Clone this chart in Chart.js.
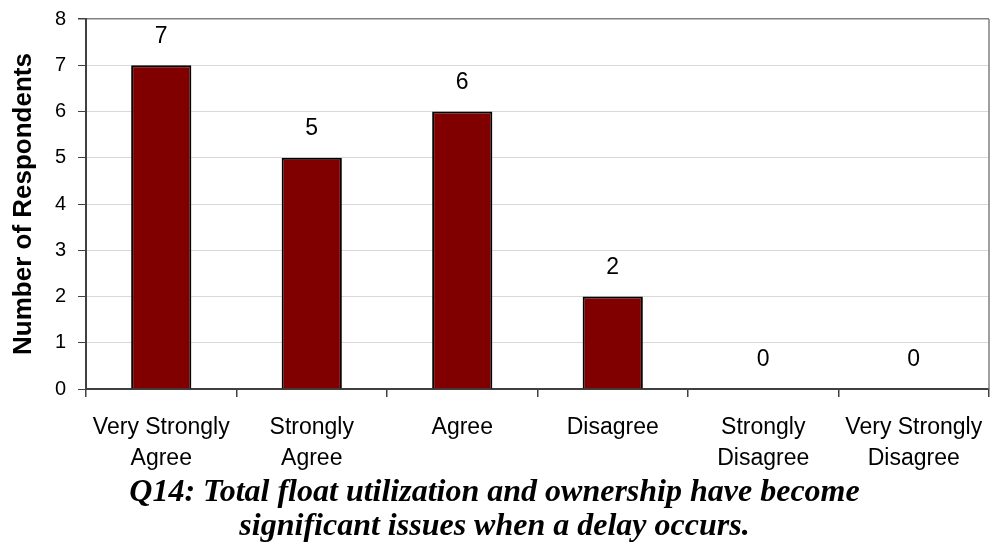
<!DOCTYPE html>
<html>
<head>
<meta charset="utf-8">
<script src="https://cdn.jsdelivr.net/npm/chart.js@4.4.1/dist/chart.umd.min.js"></script>
<style>
  html, body { margin: 0; padding: 0; background: #fff; }
  #wrap { width: 990px; height: 557px; }
</style>
</head>
<body>
<div id="wrap"><canvas id="chart" width="990" height="557"></canvas></div>
<script>
// data
const categories = [
  ['Very Strongly', 'Agree'],
  ['Strongly', 'Agree'],
  ['Agree'],
  ['Disagree'],
  ['Strongly', 'Disagree'],
  ['Very Strongly', 'Disagree']
];
const respondents = [7, 5, 6, 2, 0, 0];
const yTicks = [0, 1, 2, 3, 4, 5, 6, 7, 8];
const titleLines = [
  'Q14: Total float utilization and ownership have become',
  'significant issues when a delay occurs.'
];

const sans = '"Liberation Sans", Arial, sans-serif';

// value labels above the bars
const valueLabels = {
  id: 'valueLabels',
  afterDatasetsDraw(chart) {
    const ctx = chart.ctx;
    const meta = chart.getDatasetMeta(0);
    ctx.save();
    ctx.font = '23px ' + sans;
    ctx.fillStyle = '#000';
    ctx.textAlign = 'center';
    ctx.textBaseline = 'middle';
    meta.data.forEach((bar, i) => {
      ctx.fillText(String(respondents[i]), bar.x, bar.y - 29);
    });
    ctx.restore();
  }
};

// grey right edge of the plot area
const plotFrame = {
  id: 'plotFrame',
  beforeDatasetsDraw(chart) {
    const { ctx, chartArea } = chart;
    ctx.save();
    ctx.strokeStyle = '#808080';
    ctx.lineWidth = 1.5;
    ctx.beginPath();
    ctx.moveTo(chartArea.right, chartArea.top);
    ctx.lineTo(chartArea.right, chartArea.bottom);
    ctx.stroke();
    ctx.restore();
  }
};

new Chart(document.getElementById('chart'), {
  type: 'bar',
  data: {
    labels: categories,
    datasets: [{
      data: respondents,
      backgroundColor: '#800000',
      borderColor: '#000',
      borderWidth: 2,
      barPercentage: 0.4,
      categoryPercentage: 1
    }]
  },
  options: {
    responsive: false,
    animation: false,
    layout: { padding: { top: 19, right: 1, bottom: 13, left: 0 } },
    plugins: {
      legend: { display: false },
      tooltip: { enabled: false },
      title: {
        display: true,
        position: 'bottom',
        text: titleLines,
        color: '#000',
        padding: 0,
        font: { family: '"Liberation Serif", serif', size: 32, weight: 'bold', style: 'italic', lineHeight: 1.0625 }
      }
    },
    scales: {
      x: {
        afterFit(scale) {
          scale.height = 87;
          // long labels at the ends should not shrink the plot area
          scale.paddingLeft = 0;
          scale.paddingRight = 0;
        },
        grid: {
          offset: true,
          drawOnChartArea: false,
          drawTicks: true,
          tickLength: 8,
          color: '#404040',
          lineWidth: 1.5
        },
        border: { color: '#404040', width: 2 },
        ticks: {
          color: '#000',
          padding: 15,
          maxRotation: 0,
          font: { family: sans, size: 23, lineHeight: 1.35 }
        }
      },
      y: {
        min: 0,
        max: 8,
        afterFit(scale) {
          scale.width = 86;
          // keep the tick label padding from pushing the plot area down
          scale.paddingTop = 10;
          scale.paddingBottom = 10;
        },
        afterBuildTicks(scale) { scale.ticks = yTicks.map(v => ({ value: v })); },
        grid: {
          color: ctx => ctx.tick && ctx.tick.value === 8 ? '#808080' : '#d9d9d9',
          lineWidth: ctx => ctx.tick && ctx.tick.value === 8 ? 1.5 : 1,
          tickColor: '#404040',
          tickLength: 8
        },
        border: { color: '#404040', width: 2 },
        ticks: {
          color: '#000',
          padding: 12,
          font: { family: sans, size: 20 }
        },
        title: {
          display: true,
          text: 'Number of Respondents',
          color: '#000',
          padding: { top: 8, bottom: 0 },
          font: { family: sans, size: 26, weight: 'bold' }
        }
      }
    }
  },
  plugins: [valueLabels, plotFrame]
});
</script>
</body>
</html>
